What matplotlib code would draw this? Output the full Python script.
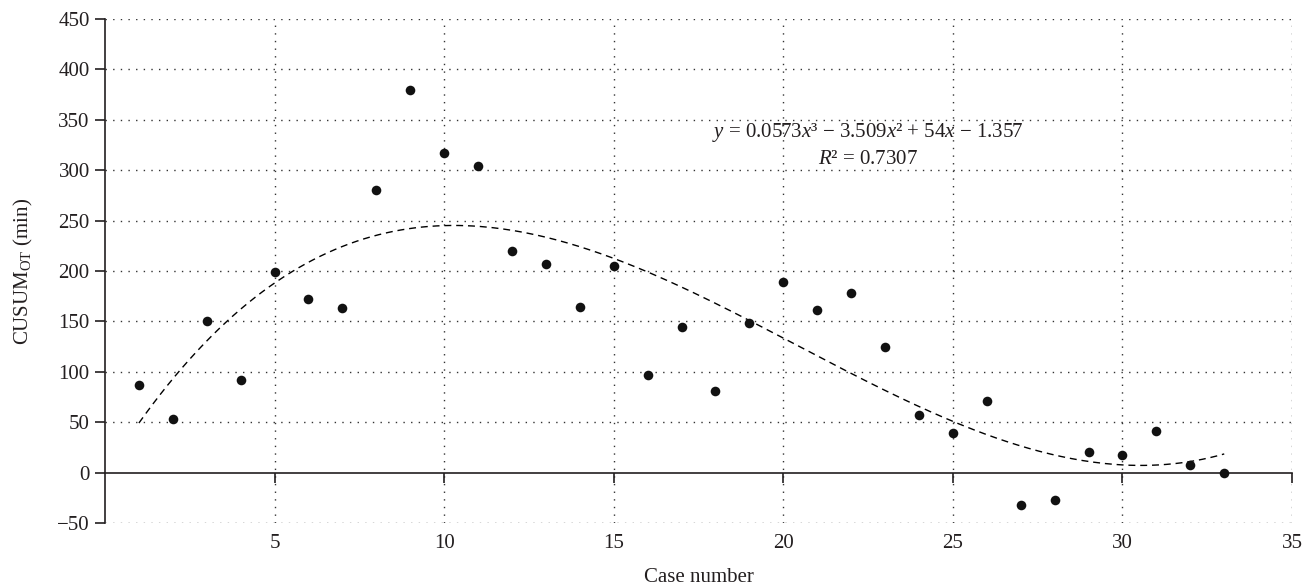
import numpy as np
import matplotlib
matplotlib.use("Agg")
import matplotlib.pyplot as plt

# ---- data ----
case_number = list(range(1, 34))
cusum_ot = [87, 53, 150, 92, 199, 172, 163, 280, 380, 317, 304, 220, 207, 164,
            205, 97, 144, 81, 148, 189, 161, 178, 125, 57, 39, 71, -32, -27,
            20, 17, 41, 8, 0]
# trendline coefficients (cubic, highest power first) as shown on chart
trend_coef = [0.0573, -3.509, 54, -1.357]
r_squared = 0.7307
x_ticks = [5, 10, 15, 20, 25, 30, 35]
y_ticks = [-50, 0, 50, 100, 150, 200, 250, 300, 350, 400, 450]

plt.rcParams['font.family'] = ['Liberation Serif', 'DejaVu Serif']
plt.rcParams['mathtext.fontset'] = 'custom'
plt.rcParams['mathtext.rm'] = 'Liberation Serif'
plt.rcParams['mathtext.it'] = 'Liberation Serif:italic'
txt = '#231f20'
FS = 15

fig = plt.figure(figsize=(13.14, 5.88), dpi=100)
ax = fig.add_axes([0.0799, 0.1105, 0.9034, 0.8572])

ax.set_xlim(0, 35)
ax.set_ylim(-50, 450)

# grid
for yv in y_ticks:
    if yv != 0:
        ax.axhline(yv, color='#333333', lw=1.0, ls=(0, (1, 4.5)), zorder=1)
for xv in x_ticks:
    ax.axvline(xv, color='#333333', lw=1.0, ls=(0, (1, 4.5)), zorder=1)

# trendline
xs = np.linspace(case_number[0], case_number[-1], 300)
ax.plot(xs, np.polyval(trend_coef, xs), color='black', lw=1.0,
        ls=(0, (5, 3.5)), zorder=2)

# points
ax.scatter(case_number, cusum_ot, s=48, color='#111111', zorder=3, linewidths=0)

# spines
for s in ['top', 'right']:
    ax.spines[s].set_visible(False)
ax.spines['bottom'].set_position(('data', 0))
ax.spines['bottom'].set_bounds(0, 35)
ax.spines['left'].set_color(txt)
ax.spines['bottom'].set_color(txt)
ax.spines['left'].set_linewidth(1.2)
ax.spines['bottom'].set_linewidth(1.2)

ax.set_xticks(x_ticks)
ax.set_yticks(y_ticks)
ax.set_yticklabels([str(v).replace('-', '\u2212') for v in y_ticks])
ax.tick_params(axis='x', direction='out', length=7, width=1.2, pad=37,
               labelsize=FS, colors=txt)
ax.tick_params(axis='y', direction='out', length=7, width=1.2, pad=4,
               labelsize=FS, colors=txt)

ax.set_xlabel('Case number', fontsize=FS, color=txt)
ax.xaxis.set_label_coords(0.5, -0.09)
ax.set_ylabel(r'CUSUM$_{\mathrm{OT}}$ (min)', fontsize=FS, color=txt)
ax.yaxis.set_label_coords(-0.059, 0.5)

eq = ('$y$ = %.4f$x$\u00b3 \u2212 %.3f$x$\u00b2 + %g$x$ \u2212 %.3f'
      % (trend_coef[0], -trend_coef[1], trend_coef[2], -trend_coef[3]))
ax.text(22.5, 337, eq, fontsize=FS, color=txt, ha='center', va='center')
ax.text(22.5, 311, '$R$\u00b2 = %.4f' % r_squared, fontsize=FS, color=txt,
        ha='center', va='center')

fig.savefig('out.png', dpi=100)
